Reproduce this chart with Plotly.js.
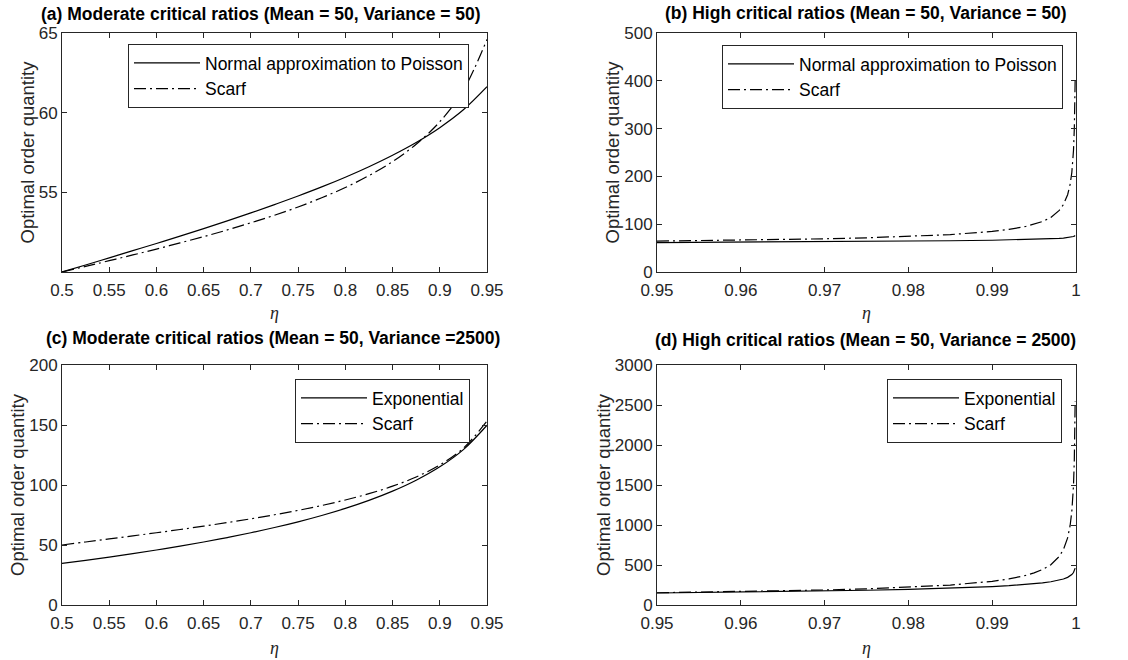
<!DOCTYPE html>
<html>
<head>
<meta charset="utf-8">
<script src="https://cdn.plot.ly/plotly-3.0.1.min.js"></script>
<style>
  html, body { margin: 0; padding: 0; background: #fff; }
  #chart { width: 1128px; height: 660px; }
</style>
</head>
<body>
<div id="chart"></div>
<script>
// Critical ratio grids (eta)
const etaModerate = [0.5, 0.525, 0.55, 0.575, 0.6, 0.625, 0.65, 0.675, 0.7, 0.725,
  0.75, 0.775, 0.8, 0.825, 0.85, 0.875, 0.9, 0.925, 0.95];
const etaHigh = [0.95, 0.955, 0.96, 0.965, 0.97, 0.975, 0.98, 0.985, 0.99, 0.992,
  0.994, 0.995, 0.996, 0.997, 0.998, 0.9985, 0.999, 0.9993, 0.9995, 0.9997, 0.9998, 0.9999];

// (a) Mean = 50, Variance = 50, moderate ratios
const normalModerate = [50.00, 50.44, 50.89, 51.34, 51.79, 52.25, 52.72, 53.21, 53.71, 54.23,
  54.77, 55.34, 55.95, 56.61, 57.33, 58.13, 59.06, 60.18, 61.63];
const scarfModerateLowVar = [50.00, 50.35, 50.71, 51.07, 51.44, 51.83, 52.22, 52.64, 53.09, 53.56,
  54.08, 54.66, 55.30, 56.05, 56.93, 58.02, 59.43, 61.41, 64.60];

// (b) Mean = 50, Variance = 50, high ratios
const normalHigh = [61.63, 61.99, 62.38, 62.81, 63.30, 63.86, 64.52, 65.35, 66.45, 67.03,
  67.76, 68.21, 68.75, 69.43, 70.35, 70.98, 71.85, 72.59, 73.27, 74.26, 75.03, 76.30];
const scarfHighLowVar = [64.60, 65.52, 66.60, 67.89, 69.48, 71.51, 74.24, 78.21, 84.82, 89.05,
  95.23, 99.62, 105.57, 114.26, 128.82, 141.08, 161.63, 183.49, 207.99, 254.03, 299.92, 403.50];

// (c) Mean = 50, Variance = 2500, moderate ratios
const expModerate = [34.66, 37.21, 39.92, 42.80, 45.81, 49.04, 52.49, 56.20, 60.20, 64.55,
  69.31, 74.58, 80.47, 87.14, 94.86, 103.97, 115.13, 129.52, 149.79];
const scarfModerateHighVar = [50.00, 52.50, 55.03, 57.59, 60.21, 62.91, 65.72, 68.68, 71.82, 75.20,
  78.87, 82.93, 87.50, 92.77, 99.01, 106.69, 116.67, 130.68, 153.24];

// (d) Mean = 50, Variance = 2500, high ratios
const expHigh = [149.79, 155.05, 160.94, 167.62, 175.33, 184.44, 195.60, 209.98, 230.26, 241.41,
  255.80, 264.92, 276.07, 290.46, 310.73, 325.11, 345.39, 363.22, 380.05, 405.58, 425.86, 460.52];
const scarfHighHighVar = [153.24, 159.74, 167.37, 176.51, 187.76, 202.12, 221.43, 249.50, 296.24, 326.14,
  369.84, 400.90, 442.91, 504.38, 607.34, 694.04, 839.39, 993.92, 1167.20, 1492.73, 1817.24, 2549.63];

const panelTitles = [
  '(a) Moderate critical ratios (Mean = 50, Variance = 50)',
  '(b) High critical ratios (Mean = 50, Variance = 50)',
  '(c) Moderate critical ratios (Mean = 50, Variance =2500)',
  '(d) High critical ratios (Mean = 50, Variance = 2500)'
];
const legendNames = {
  normal: 'Normal approximation to Poisson',
  exp: 'Exponential',
  scarf: 'Scarf'
};
const yLabel = 'Optimal order quantity';
const xLabel = 'η';

const W = 1128, H = 660;
const FONT = 'Liberation Sans, Arial, Helvetica, sans-serif';
const AX = '#262626';
const DASHDOT = '12px,4px,2px,4px';

function curve(x, y, name, xa, ya, lg, dash, smooth) {
  return { x, y, name, xaxis: xa, yaxis: ya, legend: lg, type: 'scatter', mode: 'lines',
    line: { color: '#000', width: 1.2, dash: dash, shape: smooth ? 'spline' : 'linear', smoothing: 1 },
    hoverinfo: 'skip' };
}

const data = [
  curve(etaModerate, normalModerate, legendNames.normal, 'x', 'y', 'legend', 'solid', true),
  curve(etaModerate, scarfModerateLowVar, legendNames.scarf, 'x', 'y', 'legend', DASHDOT, true),
  curve(etaHigh, normalHigh, legendNames.normal, 'x2', 'y2', 'legend2', 'solid', false),
  curve(etaHigh, scarfHighLowVar, legendNames.scarf, 'x2', 'y2', 'legend2', DASHDOT, false),
  curve(etaModerate, expModerate, legendNames.exp, 'x3', 'y3', 'legend3', 'solid', true),
  curve(etaModerate, scarfModerateHighVar, legendNames.scarf, 'x3', 'y3', 'legend3', DASHDOT, true),
  curve(etaHigh, expHigh, legendNames.exp, 'x4', 'y4', 'legend4', 'solid', false),
  curve(etaHigh, scarfHighHighVar, legendNames.scarf, 'x4', 'y4', 'legend4', DASHDOT, false)
];

// pixel boxes of the four axes: [left, right, top, bottom]
const boxes = [
  [62, 487, 33, 272],
  [657, 1076, 33, 272],
  [62, 487, 365, 605],
  [657, 1076, 365, 605]
];

function baseAxis(extra) {
  return Object.assign({
    showline: true, linecolor: AX, linewidth: 1, mirror: 'ticks',
    ticks: 'inside', ticklen: 5, tickwidth: 1, tickcolor: AX,
    showgrid: false, zeroline: false, fixedrange: true,
    tickfont: { family: FONT, size: 17, color: AX }
  }, extra);
}
function xAxis(i, extra) {
  return baseAxis(Object.assign({ domain: [boxes[i][0] / W, boxes[i][1] / W], ticklabelstandoff: 3 }, extra));
}
function yAxis(i, extra) {
  return baseAxis(Object.assign({ domain: [1 - boxes[i][3] / H, 1 - boxes[i][2] / H] }, extra));
}

const layout = {
  width: W, height: H,
  margin: { l: 0, r: 0, t: 0, b: 0 },
  paper_bgcolor: '#fff', plot_bgcolor: '#fff',
  showlegend: true,
  font: { family: FONT, color: AX },
  annotations: [],
  xaxis: xAxis(0, { anchor: 'y', range: [0.5, 0.95], tick0: 0.5, dtick: 0.05 }),
  yaxis: yAxis(0, { anchor: 'x', range: [50, 65], tickvals: [55, 60, 65] }),
  xaxis2: xAxis(1, { anchor: 'y2', range: [0.95, 1], tick0: 0.95, dtick: 0.01 }),
  yaxis2: yAxis(1, { anchor: 'x2', range: [0, 500], dtick: 100 }),
  xaxis3: xAxis(2, { anchor: 'y3', range: [0.5, 0.95], tick0: 0.5, dtick: 0.05 }),
  yaxis3: yAxis(2, { anchor: 'x3', range: [0, 200], dtick: 50 }),
  xaxis4: xAxis(3, { anchor: 'y4', range: [0.95, 1], tick0: 0.95, dtick: 0.01 }),
  yaxis4: yAxis(3, { anchor: 'x4', range: [0, 3000], dtick: 500 })
};

// legend boxes: [left, top]
const legendPos = [[128, 44], [722, 45], [295, 379], [887, 379]];
['legend', 'legend2', 'legend3', 'legend4'].forEach((key, i) => {
  layout[key] = {
    x: legendPos[i][0] / W, y: 1 - legendPos[i][1] / H,
    xanchor: 'left', yanchor: 'top',
    bgcolor: '#fff', bordercolor: AX, borderwidth: 1,
    font: { family: FONT, size: 17.5, color: '#000' },
    itemwidth: 66, tracegroupgap: 0
  };
});

// panel titles, axis titles
const titleCenters = [[261, 14], [866, 13], [273, 338], [865, 340]];
const yTitleX = [27, 612, 17, 603];
const xTitleY = [313, 313, 648, 648];
boxes.forEach((b, i) => {
  layout.annotations.push({
    xref: 'paper', yref: 'paper', x: titleCenters[i][0] / W, y: 1 - titleCenters[i][1] / H,
    xanchor: 'center', yanchor: 'middle', showarrow: false,
    text: '<b>' + panelTitles[i] + '</b>',
    font: { family: FONT, size: 17.5, color: '#000' }
  });
  layout.annotations.push({
    xref: 'paper', yref: 'paper', x: yTitleX[i] / W, y: 1 - ((b[2] + b[3]) / 2) / H,
    xanchor: 'center', yanchor: 'middle', showarrow: false, textangle: -90,
    text: yLabel, font: { family: FONT, size: 18.5, color: AX }
  });
  layout.annotations.push({
    xref: 'paper', yref: 'paper', x: ((b[0] + b[1]) / 2) / W, y: 1 - xTitleY[i] / H,
    xanchor: 'center', yanchor: 'middle', showarrow: false,
    text: '<i>' + xLabel + '</i>', font: { family: 'Liberation Serif, Times New Roman, serif', size: 18, color: AX }
  });
});

Plotly.newPlot('chart', data, layout, { staticPlot: true, displayModeBar: false });
</script>
</body>
</html>
